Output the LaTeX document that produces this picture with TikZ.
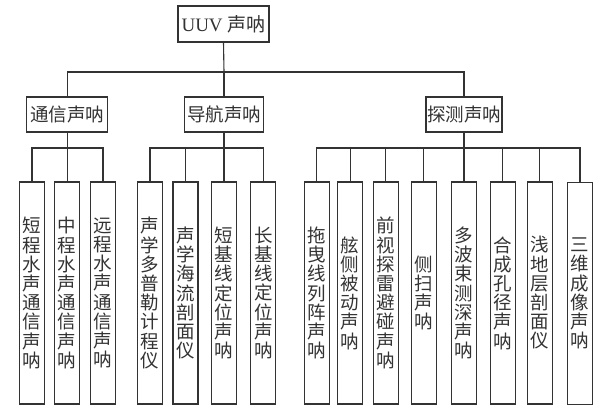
\documentclass[tikz,border=0pt]{standalone}
\usepackage{fontspec}
\setmainfont{Liberation Serif}
\newfontfamily\cjk{Noto Sans CJK SC}
\definecolor{ink}{HTML}{333333}
\begin{document}
\begin{tikzpicture}[x=1pt,y=-1pt,
  every node/.style={inner sep=0pt, text=ink},
  boxa/.style={draw=ink, line width=1.1pt, minimum height=35pt, font=\cjk\fontsize{18.5}{19.2}\selectfont},
  boxv/.style={draw=ink, line width=1.1pt, minimum width=25pt, minimum height=222pt, align=center, font=\cjk\fontsize{18.5}{19.2}\selectfont},
  conn/.style={draw=ink, line width=1.1pt}]
\useasboundingbox (0,0) rectangle (615,415);
% root
\node[draw=ink, line width=1.1pt, minimum width=91pt, minimum height=36pt, font=\fontsize{19}{22}\selectfont] (top) at (223.5,24) {UUV {\cjk 声呐}};
% level 2
\node[boxa, minimum width=81pt] (a1) at (67.2,114.5) {通信声呐};
\node[boxa, minimum width=79pt] (a2) at (224,114.5) {导航声呐};
\node[boxa, minimum width=76pt] (a3) at (464,114.5) {探测声呐};
% level 3
\node[boxv] (b1) at (32,293) {短\\程\\水\\声\\通\\信\\声\\呐};
\node[boxv] (b2) at (67.2,293) {中\\程\\水\\声\\通\\信\\声\\呐};
\node[boxv] (b3) at (103,293) {远\\程\\水\\声\\通\\信\\声\\呐};
\node[boxv] (b4) at (150,293) {声\\学\\多\\普\\勒\\计\\程\\仪};
\node[boxv] (b5) at (185.5,293) {声\\学\\海\\流\\剖\\面\\仪};
\node[boxv] (b6) at (224,293) {短\\基\\线\\定\\位\\声\\呐};
\node[boxv] (b7) at (263.3,293) {长\\基\\线\\定\\位\\声\\呐};
\node[boxv] (b8) at (316.8,293) {拖\\曳\\线\\列\\阵\\声\\呐};
\node[boxv] (b9) at (350.2,293) {舷\\侧\\被\\动\\声\\呐};
\node[boxv] (b10) at (385.8,293) {前\\视\\探\\雷\\避\\碰\\声\\呐};
\node[boxv] (b11) at (423.9,293) {侧\\扫\\声\\呐};
\node[boxv] (b12) at (464,293) {多\\波\\束\\测\\深\\声\\呐};
\node[boxv] (b13) at (502.8,293) {合\\成\\孔\\径\\声\\呐};
\node[boxv] (b14) at (539.8,293) {浅\\地\\层\\剖\\面\\仪};
\node[boxv] (b15) at (580,293.5) {三\\维\\成\\像\\声\\呐};
% bus points
\coordinate (g0) at (224,72);
\coordinate (g1) at (67.2,148);
\coordinate (g2) at (224,148);
\coordinate (g3) at (464,148);
% connectors
\path[conn] (top.south) -- (g0);
\path[conn] (a1.north) |- (g0) -| (a3.north);
\path[conn] (g0) -- (a2.north);
\path[conn] (a1.south) -- (g1);
\path[conn] (b1.north) |- (g1) -| (b3.north);
\path[conn] (g1) -- (b2.north);
\path[conn] (a2.south) -- (g2);
\path[conn] (b4.north) |- (g2) -| (b7.north);
\path[conn] (b5.north) |- (g2);
\path[conn] (g2) -- (b6.north);
\path[conn] (a3.south) -- (g3);
\path[conn] (b8.north) |- (g3) -| (b15.north);
\path[conn] (b9.north) |- (g3);
\path[conn] (b10.north) |- (g3);
\path[conn] (b11.north) |- (g3);
\path[conn] (b13.north) |- (g3);
\path[conn] (b14.north) |- (g3);
\path[conn] (g3) -- (b12.north);
\end{tikzpicture}
\end{document}
